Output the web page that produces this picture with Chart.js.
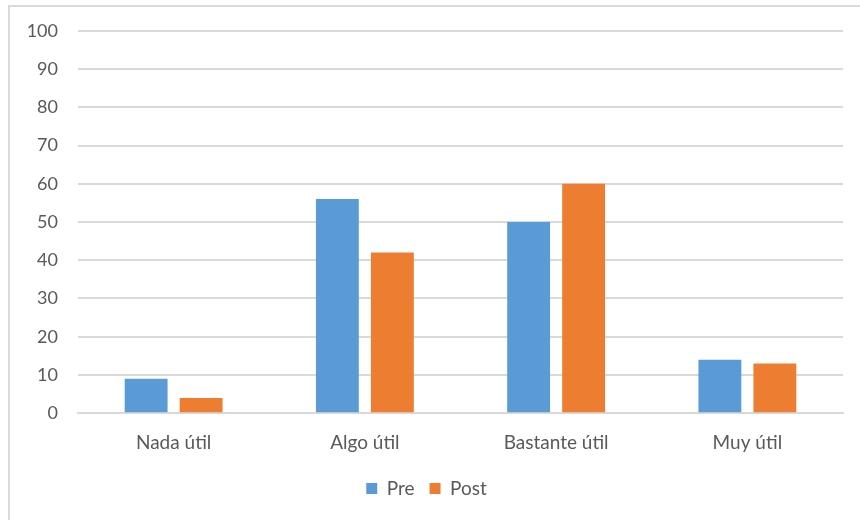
<!DOCTYPE html>
<html>
<head>
<meta charset="utf-8">
<script src="https://cdn.jsdelivr.net/npm/chart.js@4.4.1/dist/chart.umd.min.js"></script>
<style>
  html, body { margin: 0; padding: 0; background: #fff; }
  #wrap { position: relative; width: 860px; height: 520px; overflow: hidden; }
  #frame { position: absolute; left: 8px; top: 5px; width: 900px; height: 600px;
    border-left: 2px solid #d9d9d9; border-top: 2px solid #d9d9d9; }
  canvas { position: absolute; left: 0; top: 0; }
</style>
</head>
<body>
<div id="wrap">
  <div id="frame"></div>
  <canvas id="c" width="860" height="520"></canvas>
</div>
<script>
"use strict";
const categories = ["Nada útil", "Algo útil", "Bastante útil", "Muy útil"];
const preValues = [9, 56, 50, 14];
const postValues = [4, 42, 60, 13];
const COLORS = { pre: "#5b9bd5", post: "#ed7d31", grid: "#d9d9d9", text: "#595959" };
const FONT = "Lato, 'Open Sans', sans-serif";

Chart.defaults.color = COLORS.text;
Chart.defaults.font.family = FONT;
Chart.defaults.font.size = 19;
Chart.defaults.animation = false;

new Chart(document.getElementById("c"), {
  type: "bar",
  data: {
    labels: categories,
    datasets: [
      { label: "Pre", data: preValues, backgroundColor: COLORS.pre },
      { label: "Post", data: postValues, backgroundColor: COLORS.post },
    ],
  },
  options: {
    responsive: false,
    categoryPercentage: 0.575,
    barPercentage: 0.78,
    layout: { padding: { left: 10, top: 27, right: 17, bottom: 12 } },
    plugins: {
      tooltip: { enabled: false },
      legend: {
        position: "bottom",
        labels: { boxWidth: 11, boxHeight: 11, padding: 15, font: { size: 19 } },
      },
    },
    scales: {
      x: {
        grid: { display: false },
        border: { color: COLORS.grid, width: 2 },
        ticks: { padding: 10, font: { size: 19 } },
      },
      y: {
        min: 0, max: 100,
        ticks: { stepSize: 10, padding: 20, font: { size: 18 } },
        grid: { color: COLORS.grid, lineWidth: 2, drawTicks: false },
        border: { display: false },
        afterFit: (s) => { s.width = 68; },
      },
    },
  },
});
</script>
</body>
</html>
